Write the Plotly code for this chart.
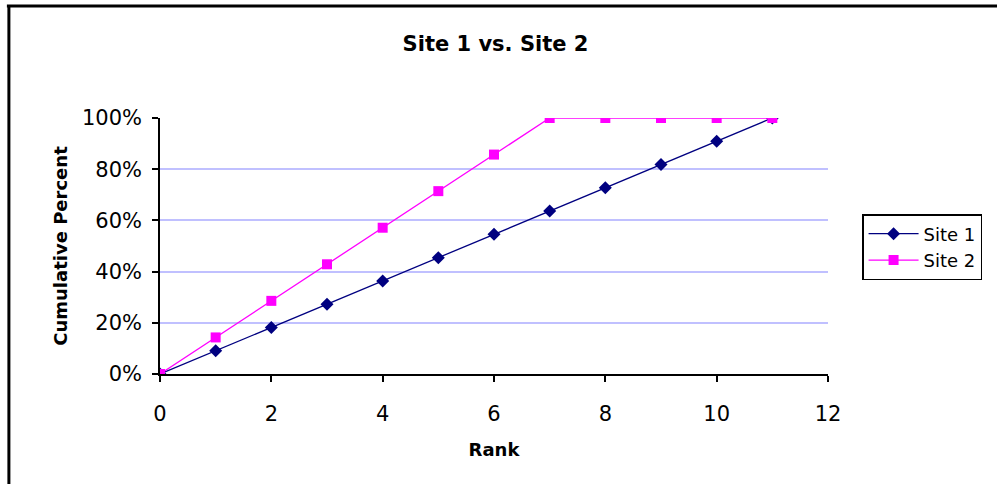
import plotly.graph_objects as go

# Cumulative share of items by rank for each site
rank = [0, 1, 2, 3, 4, 5, 6, 7, 8, 9, 10, 11]
site1 = [0.0, 0.0909, 0.1818, 0.2727, 0.3636, 0.4545, 0.5455, 0.6364, 0.7273, 0.8182, 0.9091, 1.0]
site2 = [0.0, 0.1429, 0.2857, 0.4286, 0.5714, 0.7143, 0.8571, 1.0, 1.0, 1.0, 1.0, 1.0]

x_ticks = [0, 2, 4, 6, 8, 10, 12]
y_ticks = [0, 0.2, 0.4, 0.6, 0.8, 1.0]
y_tick_text = ["0%", "20%", "40%", "60%", "80%", "100%"]

FONT = "DejaVu Sans, Arial, sans-serif"

fig = go.Figure()
fig.add_trace(go.Scatter(
    x=rank, y=site1, name="Site 1", mode="lines+markers",
    line=dict(color="#000080", width=1.3),
    marker=dict(symbol="diamond", size=10, color="#000080"),
))
fig.add_trace(go.Scatter(
    x=rank, y=site2, name="Site 2", mode="lines+markers",
    line=dict(color="#ff00ff", width=1.3),
    marker=dict(symbol="square", size=10, color="#ff00ff"),
))

fig.update_layout(
    width=997, height=484,
    margin=dict(l=160, r=169, t=118, b=110),
    paper_bgcolor="#ffffff",
    plot_bgcolor="#ffffff",
    font=dict(family=FONT, color="#000000", size=18),
    title=dict(text="<b>Site 1 vs. Site 2</b>", x=0.497, xanchor="center",
               yref="container", y=0.909, yanchor="middle",
               font=dict(size=21, family=FONT)),
    showlegend=True,
    legend=dict(x=1.051, xanchor="left", y=0.496, yanchor="middle",
                bordercolor="#000000", borderwidth=1.5, bgcolor="#ffffff",
                font=dict(size=18, family=FONT), tracegroupgap=0,
                itemwidth=50),
    xaxis=dict(
        range=[0, 12], tickvals=x_ticks, ticktext=[str(v) for v in x_ticks],
        showgrid=False, zeroline=False,
        showline=True, linecolor="#000000", linewidth=1.5,
        ticks="outside", ticklen=6, tickcolor="#000000", tickwidth=1.5,
        ticklabelstandoff=14,
        tickfont=dict(size=21, family=FONT),
        title=dict(text="<b>Rank</b>", font=dict(size=18, family=FONT), standoff=18),
    ),
    yaxis=dict(
        range=[0, 1], tickvals=y_ticks, ticktext=y_tick_text,
        showgrid=True, gridcolor="#c0c0ff", gridwidth=1.5, zeroline=False,
        showline=True, linecolor="#000000", linewidth=1.5,
        ticks="outside", ticklen=6, tickcolor="#000000", tickwidth=1.5,
        ticklabelstandoff=6,
        tickfont=dict(size=21, family=FONT),
        title=dict(text="<b>Cumulative Percent</b>", font=dict(size=18, family=FONT), standoff=10),
    ),
    shapes=[
        dict(type="line", xref="paper", yref="paper",
             x0=-0.2292, x1=1.253, y0=1.4375, y1=1.4375,
             line=dict(color="#000000", width=3)),
        dict(type="line", xref="paper", yref="paper",
             x0=-0.2262, x1=-0.2262, y0=1.4375, y1=-0.45,
             line=dict(color="#000000", width=3)),
    ],
)

fig.write_html("out.html")
